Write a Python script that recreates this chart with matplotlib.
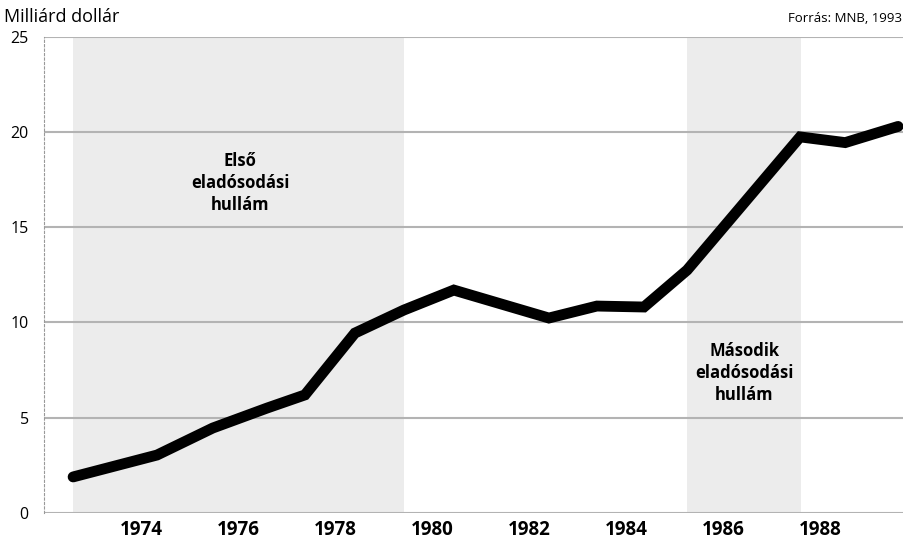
import matplotlib
matplotlib.use("Agg")
import matplotlib.pyplot as plt

# Data (year positions as drawn, debt in billion USD)
years = [1972.60, 1974.33, 1975.48, 1976.60, 1977.38, 1978.41, 1979.42,
         1980.45, 1982.41, 1983.40, 1984.37, 1985.26, 1987.59, 1988.52, 1989.61]
debt = [1.88, 3.03, 4.45, 5.5, 6.19, 9.44, 10.65,
        11.7, 10.23, 10.86, 10.81, 12.75, 19.75, 19.45, 20.3]

wave1 = (1972.60, 1979.42)
wave2 = (1985.26, 1987.61)
wave1_label = "Első\neladósodási\nhullám"
wave2_label = "Második\neladósodási\nhullám"
xticks = [1974, 1976, 1978, 1980, 1982, 1984, 1986, 1988]
yticks = [0, 5, 10, 15, 20, 25]

plt.rcParams['font.family'] = ['Open Sans', 'DejaVu Sans']

fig = plt.figure(figsize=(9.04, 5.38), dpi=100)
W, H = 904, 538
left, right, top, bottom = 44, 904, 37, 512.7
ax = fig.add_axes([left / W, 1 - bottom / H, (right - left) / W, (bottom - top) / H])

px_per_year = 48.5
x0 = 1974 + (left - 141) / px_per_year
x1 = 1974 + (right - 141) / px_per_year
ax.set_xlim(x0, x1)
ax.set_ylim(0, 25)

ax.axvspan(*wave1, color='#ececec', zorder=0, lw=0)
ax.axvspan(*wave2, color='#ececec', zorder=0, lw=0)

for y in yticks:
    ax.axhline(y, color='#b3b3b3', lw=1.5, zorder=1)

ax.plot(years, debt, color='black', lw=7.8, solid_capstyle='round',
        solid_joinstyle='miter', zorder=3)

ax.text(sum(wave1) / 2 + 0.03, 17.33, wave1_label, ha='center', va='center',
        fontsize=12, fontweight='bold', linespacing=1.27)
ax.text(sum(wave2) / 2, 7.34, wave2_label, ha='center', va='center',
        fontsize=12, fontweight='bold', linespacing=1.27)

for s in ['top', 'right', 'bottom']:
    ax.spines[s].set_visible(False)
ax.spines['left'].set_color('#999999')
ax.spines['left'].set_linestyle((0, (2, 2)))
ax.spines['left'].set_linewidth(0.8)

ax.set_xticks(xticks)
ax.set_xticklabels([str(t) for t in xticks], fontsize=13.5, fontweight='bold')
ax.set_yticks(yticks)
ax.set_yticklabels([str(t) for t in yticks], fontsize=11.5)
ax.tick_params(axis='both', length=0)
ax.tick_params(axis='x', pad=5)
ax.tick_params(axis='y', pad=11)

fig.text(4 / W, 1 - 17 / H, "Milliárd dollár", fontsize=13, ha='left', va='center')
fig.text(902 / W, 1 - 19 / H, "Forrás: MNB, 1993", fontsize=9.5, ha='right', va='center')

fig.savefig("out.png", dpi=100)
